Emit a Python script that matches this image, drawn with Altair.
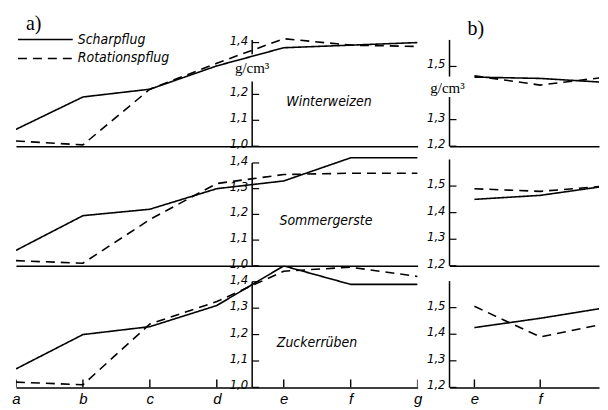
import altair as alt
import pandas as pd

# ---------------- data ----------------
cats_a = ["a", "b", "c", "d", "e", "f", "g"]
cats_b = ["e", "f", "g"]
series = ["Scharpflug", "Rotationspflug"]
crops = ["Winterweizen", "Sommergerste", "Zuckerrüben"]

# panel a) values (g/cm3) at a..g
ww_schar_a = [1.065, 1.19, 1.22, 1.31, 1.38, 1.39, 1.40]
ww_rot_a = [1.02, 1.005, 1.22, 1.32, 1.415, 1.39, 1.385]
sg_schar_a = [1.06, 1.195, 1.22, 1.30, 1.33, 1.42, 1.42]
sg_rot_a = [1.02, 1.01, 1.18, 1.32, 1.355, 1.36, 1.36]
zr_schar_a = [1.07, 1.20, 1.23, 1.31, 1.46, 1.39, 1.39]
zr_rot_a = [1.02, 1.01, 1.24, 1.325, 1.44, 1.455, 1.42]

# panel b) values at e..g
ww_schar_b = [1.46, 1.455, 1.44]
ww_rot_b = [1.465, 1.43, 1.46]
sg_schar_b = [1.45, 1.465, 1.50]
sg_rot_b = [1.49, 1.48, 1.50]
zr_schar_b = [1.425, 1.46, 1.50]
zr_rot_b = [1.505, 1.39, 1.44]

# axis tick values per row
ticks_a = [[1.0, 1.1, 1.2, 1.4], [1.0, 1.1, 1.2, 1.3, 1.4], [1.0, 1.1, 1.2, 1.3, 1.4]]
ticks_b = [[1.2, 1.3, 1.5], [1.2, 1.3, 1.4, 1.5], [1.2, 1.3, 1.4, 1.5]]
# axis line segments (gap for unit label in first row)
segs_a = [[(1.0, 1.25), (1.355, 1.41)], [(1.0, 1.40)], [(1.0, 1.40)]]
segs_b = [[(1.2, 1.385), (1.462, 1.60)], [(1.2, 1.60)], [(1.2, 1.60)]]

# ---------------- layout ----------------
W_A, W_B, GAP = 403, 150, 32
HEIGHTS = [137, 120, 122]
PX_A = [260, 258, 265]
PX_B = 266.7
AXIS_A_PX = 237
AXIS_B_PX = 0
B_XDOM = [-25 / 66, 125 / 66]

HAND = "Liberation Sans Narrow, DejaVu Sans Condensed, Liberation Sans, sans-serif"
SERIF = "Liberation Serif, DejaVu Serif, serif"

dash_scale = alt.Scale(domain=series, range=[[1, 0], [9, 6]])


def fmt(v):
    return f"{v:.1f}".replace(".", ",")


def text_layer(txt, x, y, size=15, style="italic", font=HAND, align="center"):
    return alt.Chart(pd.DataFrame({"t": [txt]})).mark_text(
        font=font, fontSize=size, fontStyle=style, align=align,
        baseline="middle", color="black"
    ).encode(x=alt.value(x), y=alt.value(y), text="t:N")


def panel(cats, vs, vr, W, H, ydom, xdom, ticks, segs, axis_px, bottom, extras):
    n = len(cats)
    df = pd.DataFrame({
        "i": list(range(n)) * 2,
        "v": vs + vr,
        "series": [series[0]] * n + [series[1]] * n,
    })
    xs = alt.Scale(domain=xdom, nice=False, zero=False)
    ys = alt.Scale(domain=ydom, nice=False, zero=False)
    if bottom:
        lab_expr = "[" + ",".join(f"'{c}'" for c in cats) + "][round(datum.value)]"
        xaxis = alt.Axis(values=list(range(n)), labelExpr=lab_expr, ticks=False,
                         grid=False, title=None, domainColor="black", domainWidth=1.5,
                         labelFont="Liberation Sans", labelFontSize=15,
                         labelFontStyle="italic", labelColor="black", labelPadding=4,
                         labelOverlap=False, labelFlush=False)
    else:
        xaxis = alt.Axis(labels=False, ticks=False, grid=False, title=None,
                         domainColor="black", domainWidth=1.5)
    lines = alt.Chart(df).mark_line(clip=True, color="black", strokeWidth=1.6).encode(
        x=alt.X("i:Q", scale=xs, axis=xaxis),
        y=alt.Y("v:Q", scale=ys, axis=None),
        strokeDash=alt.StrokeDash("series:N", scale=dash_scale, legend=None),
        detail="series:N",
    )
    seg_df = pd.DataFrame({"y0": [s[0] for s in segs], "y1": [s[1] for s in segs]})
    axis_line = alt.Chart(seg_df).mark_rule(color="black", strokeWidth=1.5).encode(
        x=alt.value(axis_px), y=alt.Y("y0:Q", scale=ys, axis=None), y2="y1:Q")
    tdf = pd.DataFrame({"v": ticks, "lab": [fmt(t) for t in ticks]})
    tick_marks = alt.Chart(tdf).mark_rule(color="black", strokeWidth=1.2).encode(
        x=alt.value(axis_px), x2=alt.value(axis_px + 7),
        y=alt.Y("v:Q", scale=ys, axis=None))
    tick_labels = alt.Chart(tdf).mark_text(
        font=HAND, fontSize=13, fontStyle="italic", align="right",
        baseline="middle", dy=-2, color="black").encode(
        x=alt.value(axis_px - 4), y=alt.Y("v:Q", scale=ys, axis=None), text="lab:N")
    layers = [lines, axis_line, tick_marks, tick_labels]
    if bottom:
        bdf = pd.DataFrame({"i": list(range(n))})
        up = alt.Chart(bdf).mark_rule(clip=True, color="black", strokeWidth=1.4).encode(
            x=alt.X("i:Q", scale=xs, axis=xaxis), y=alt.value(H - 8), y2=alt.value(H))
        layers.append(up)
    layers += extras
    return alt.layer(*layers).properties(width=W, height=H)


vals = [
    (ww_schar_a, ww_rot_a, ww_schar_b, ww_rot_b),
    (sg_schar_a, sg_rot_a, sg_schar_b, sg_rot_b),
    (zr_schar_a, zr_rot_a, zr_schar_b, zr_rot_b),
]
crop_pos = [(314, 93), (311, 75), (302, 77)]

panels = []
for r in range(3):
    H = HEIGHTS[r]
    sa, ra, sb, rb = vals[r]
    ydom_a = [1.0, 1.0 + H / PX_A[r]]
    ydom_b = [1.2, 1.2 + H / PX_B]
    extras_a = [text_layer(crops[r], crop_pos[r][0], crop_pos[r][1], size=14)]
    extras_b = []
    if r == 0:
        extras_a += [
            text_layer("a)", 10, 14, size=20, style="normal", font=SERIF, align="left"),
            text_layer("g/cm³", AXIS_A_PX, 59, size=15, style="normal", font=SERIF),
        ]
        for k, name in enumerate(series):
            leg = alt.Chart(pd.DataFrame({"series": [name]})).mark_rule(
                color="black", strokeWidth=1.6).encode(
                x=alt.value(2), x2=alt.value(57), y=alt.value(30 + 19 * k),
                strokeDash=alt.StrokeDash("series:N", scale=dash_scale, legend=None))
            extras_a.append(leg)
            extras_a.append(text_layer(name, 62, 30 + 19 * k, size=14, align="left"))
        extras_b += [
            text_layer("b)", 18, 19, size=20, style="normal", font=SERIF, align="left"),
            text_layer("g/cm³", AXIS_B_PX - 2, 79, size=15, style="normal", font=SERIF),
        ]
    pa = panel(cats_a, sa, ra, W_A, H, ydom_a, [0, len(cats_a) - 1], ticks_a[r],
               segs_a[r], AXIS_A_PX, r == 2, extras_a)
    pb = panel(cats_b, sb, rb, W_B, H, ydom_b, B_XDOM, ticks_b[r],
               segs_b[r], AXIS_B_PX, r == 2, extras_b)
    panels += [pa, pb]

chart = alt.concat(*panels, columns=2, spacing={"row": 0, "column": GAP},
                   bounds="flush").properties(
    padding={"left": 3, "top": 0, "right": 0, "bottom": 0},
    background="white",
).configure_view(stroke="transparent")

chart.save("out.html", embed_options={"renderer": "svg", "actions": False})
